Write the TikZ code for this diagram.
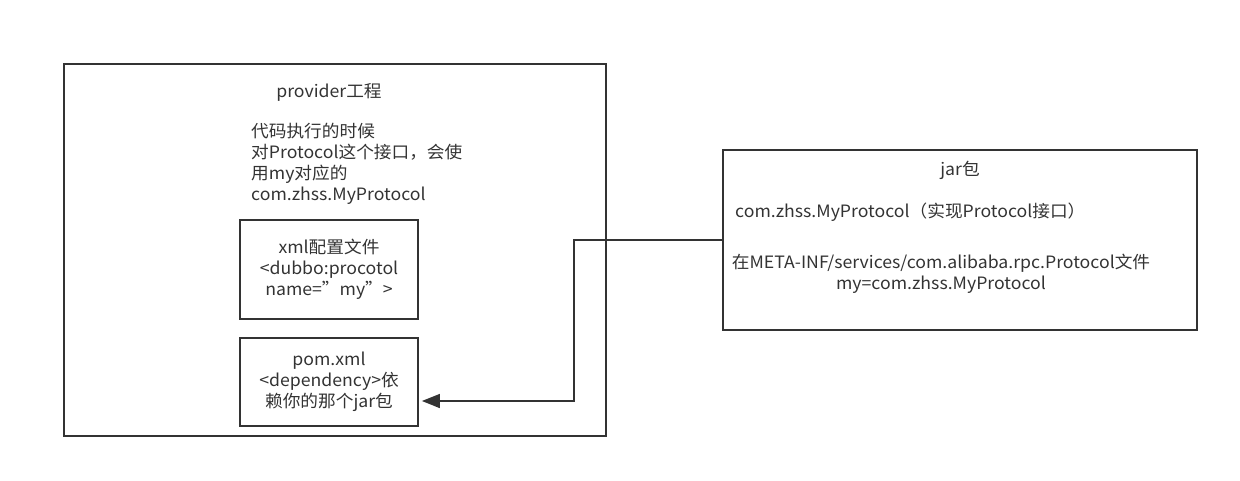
\documentclass[tikz,border=0pt]{standalone}
\usepackage{fontspec}
\setmainfont[FakeStretch=1.04]{Noto Sans CJK SC}
\usetikzlibrary{arrows.meta}
\definecolor{ink}{HTML}{333333}
\begin{document}
\begin{tikzpicture}[x=1pt, y=-1pt, font=\fontsize{17}{21}\selectfont, text=ink,
    box/.style={draw=ink, line width=1.8pt, inner sep=0pt},
    txt/.style={inner sep=0pt, align=center}]
  \useasboundingbox (0,0) rectangle (1240,480);

  % provider side
  \node[box, minimum width=542pt, minimum height=372pt] (provider) at (335,250) {};
  \node[txt] (title) at (329,92) {provider工程};
  \node[txt, align=left, anchor=west] (note) at (251,164)
    {代码执行的时候\\对Protocol这个接口，会使\\用my对应的\\com.zhss.MyProtocol};
  \node[box, minimum width=178pt, minimum height=99pt] (xml) at (329,269.5) {};
  \node[txt] (xmltext) at (xml) {xml配置文件\\<dubbo:procotol\\name="my">};
  \node[box, minimum width=178pt, minimum height=88pt] (pom) at (329,382) {};
  \node[txt] (pomtext) at (pom) {pom.xml\\<dependency>依\\赖你的那个jar包};

  % jar side
  \node[box, minimum width=474pt, minimum height=180pt] (jar) at (960,240) {};
  \node[txt] (jartitle) at (960,170) {jar包};
  \node[txt, anchor=west] (impl) at (735,212) {com.zhss.MyProtocol（实现Protocol接口）};
  \node[txt] (spi) at (941,274) {在META-INF/services/com.alibaba.rpc.Protocol文件\\my=com.zhss.MyProtocol};

  % dependency arrow
  \coordinate (turn) at (574,401);
  \draw[draw=ink, line width=1.6pt, -{Triangle[length=18pt, width=14pt]}, shorten >=3pt]
    (jar.west) -| (turn) -- (turn -| pom.east);
\end{tikzpicture}
\end{document}
